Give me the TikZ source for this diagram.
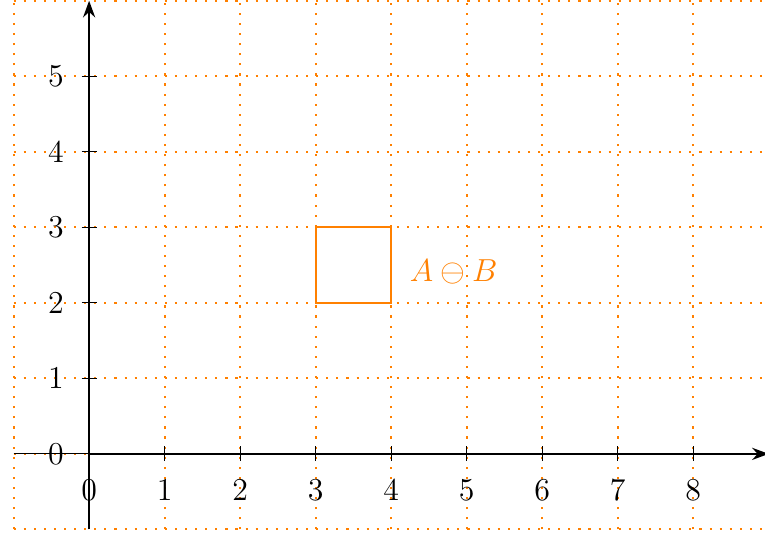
\documentclass[tikz,border=0pt]{standalone}
\usetikzlibrary{arrows.meta}
\begin{document}
\begin{tikzpicture}[x=1cm,y=1cm,
  gridline/.style={orange, line width=0.8pt, dash pattern=on 0.8pt off 3pt},
  axisline/.style={black, thick, -{Stealth[length=2.2mm,width=1.6mm]}},
  tickmark/.style={black, thin},
  ticklabel/.style={font=\large, inner sep=0pt},
  shapebox/.style={orange, thick}]
\useasboundingbox (-1.18,-1.086) rectangle (8.95,6.01);
% grid
\foreach \x in {-1,...,8} \draw[gridline] (\x,-1) -- (\x,6);
\foreach \y in {-1,...,6} \draw[gridline] (-1,\y) -- (9,\y);
% axes
\coordinate (xl) at (-1,0);
\coordinate (o) at (0,0);
\coordinate (xr) at (9,0);
\coordinate (yb) at (0,-1);
\coordinate (yt) at (0,6);
\draw[black, thin] (xl) -- (o);
\draw[axisline] (o) -- (xr);
\draw[axisline] (yb) -- (yt);
% ticks
\foreach \x in {1,...,8} \draw[tickmark] (\x,0.1) -- (\x,-0.1);
\foreach \y in {1,...,5} \draw[tickmark] (-0.1,\y) -- (0.1,\y);
\foreach \x in {0,...,8} \node[ticklabel] (xt\x) at (\x,-0.48) {$\x$};
\foreach \y in {0,...,5} \node[ticklabel] (yt\y) at (-0.44,\y) {$\y$};
% square
\draw[shapebox] (3,2) rectangle (4,3);
\node[orange, font=\large, anchor=west, inner sep=0pt] (lab) at (4.24,2.41) {$A\ominus B$};
\end{tikzpicture}
\end{document}
